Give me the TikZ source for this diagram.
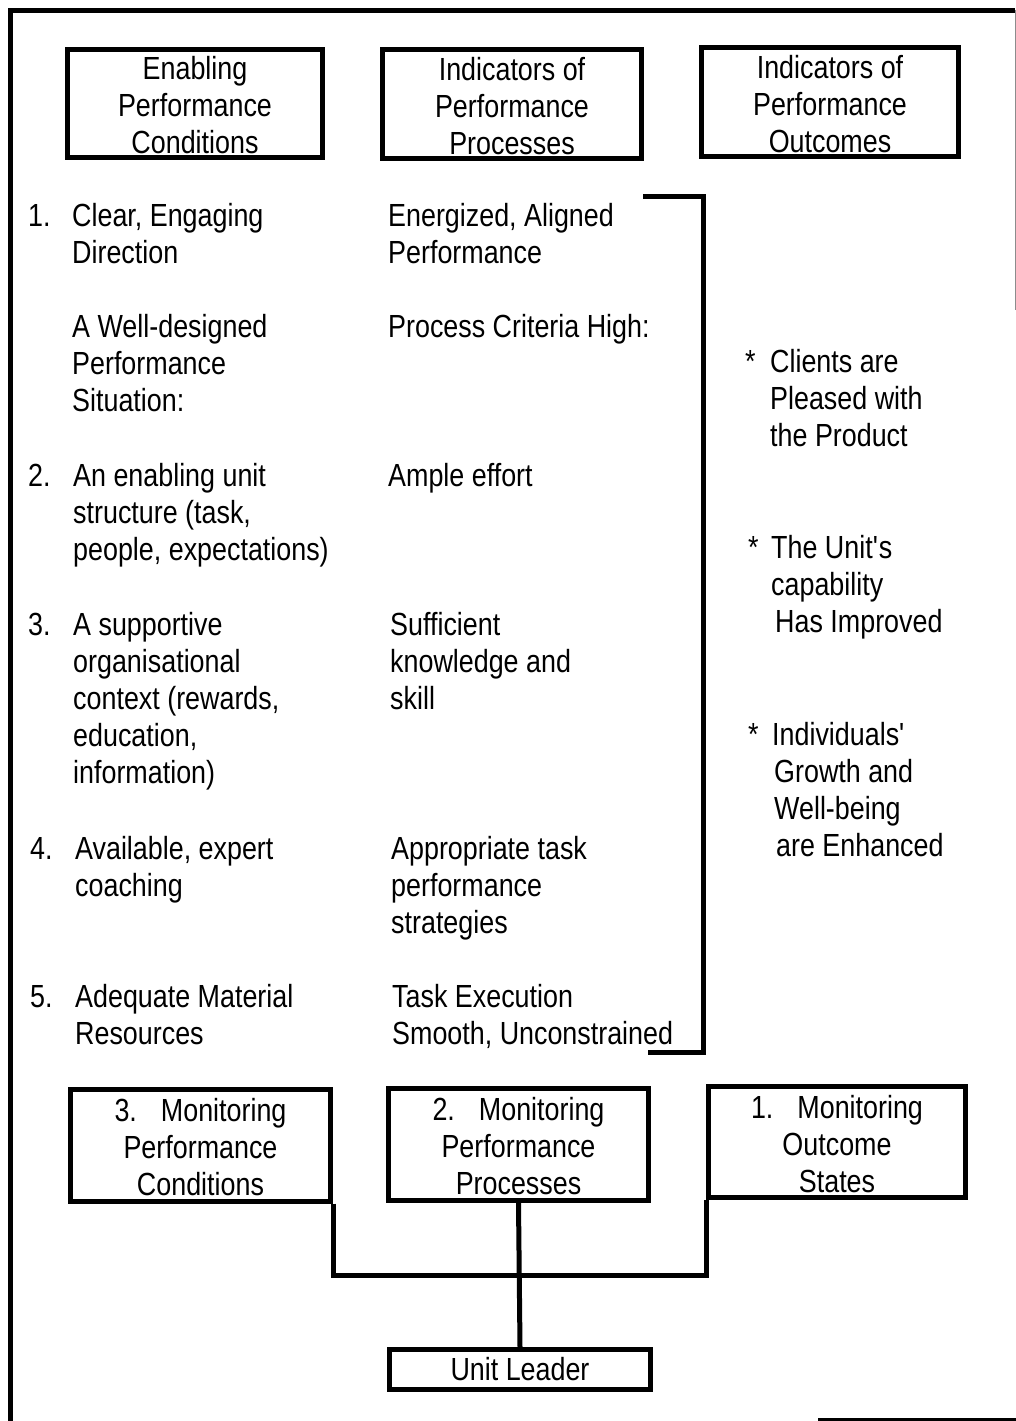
\documentclass[tikz,border=0pt]{standalone}
\usepackage{fontspec}
\setmainfont[FakeStretch=0.84]{Liberation Sans}
\begin{document}
\begin{tikzpicture}[x=1pt,y=-1pt,
  txt/.style={inner sep=0pt, anchor=north west, align=left,
              font=\fontsize{32}{37}\selectfont},
  headbox/.style={draw, line width=5pt, inner sep=0pt, align=center,
              font=\fontsize{32}{37}\selectfont},
  link/.style={line width=5pt}]
% page area
\useasboundingbox (0,0) rectangle (1016,1421);
\fill[white] (0,0) rectangle (1016,1421);

% outer frame
\coordinate (fTL) at (10.5,10.5);
\coordinate (fTR) at (1015,10.5);
\coordinate (fBL) at (10.5,1421);
\draw[line width=5pt] (fBL) -- (fTL) -- (fTR);
\coordinate (fR1) at (1015,10);
\coordinate (fR2) at (1015,310);
\draw[line width=1pt, black!45] (fR1) -- (fR2);
\coordinate (fB1) at (818,1419);
\coordinate (fB2) at (1016,1419);
\draw[line width=3pt] (fB1) -- (fB2);

% column headings
\newcommand\up{\rule{0pt}{27pt}}
\node[headbox, minimum width=255pt, minimum height=108pt] (hA) at (195,103.5)
  {\up Enabling\\Performance\\Conditions};
\node[headbox, minimum width=259pt, minimum height=109pt] (hB) at (512,104)
  {\up Indicators of\\Performance\\Processes};
\node[headbox, minimum width=257pt, minimum height=109pt] (hC) at (830,102)
  {\up Indicators of\\Performance\\Outcomes};

% text blocks: name, x, baseline of first line, lines
\newcommand\blk[4]{\node[txt] (#1) at (#2,#3-26) {\rule{0pt}{26pt}#4};}
\newcommand\ap{\textquotesingle}

% enabling conditions
\blk{n1}{28}{226}{1.}
\blk{c1}{72}{226}{Clear, Engaging\\Direction}
\blk{c0}{72}{337}{A Well-designed\\Performance\\Situation:}
\blk{n2}{28}{486}{2.}
\blk{c2}{73}{486}{An enabling unit\\structure (task,\\people, expectations)}
\blk{n3}{28}{635}{3.}
\blk{c3}{73}{635}{A supportive\\organisational\\context (rewards,\\education,\\information)}
\blk{n4}{30}{859}{4.}
\blk{c4}{75}{859}{Available, expert\\coaching}
\blk{n5}{30}{1007}{5.}
\blk{c5}{75}{1007}{Adequate Material\\Resources}

% process indicators
\blk{p1}{388}{226}{Energized, Aligned\\Performance}
\blk{p0}{388}{337}{Process Criteria High:}
\blk{p2}{388}{486}{Ample effort}
\blk{p3}{390}{635}{Sufficient\\knowledge and\\skill}
\blk{p4}{391}{859}{Appropriate task\\performance\\strategies}
\blk{p5}{392}{1007}{Task Execution\\Smooth, Unconstrained}

% outcome indicators
\blk{s1}{745}{372}{*}
\blk{o1}{770}{372}{Clients are\\Pleased with\\the Product}
\blk{s2}{748}{558}{*}
\blk{o2}{771}{558}{The Unit\ap s\\capability\\\hspace{4pt}Has Improved}
\blk{s3}{748}{745}{*}
\blk{o3}{772}{745}{Individuals\ap\\\hspace{2pt}Growth and\\\hspace{2pt}Well-being\\\hspace{4pt}are Enhanced}

% bracket grouping the process indicators
\coordinate (bA) at (643,196);
\coordinate (bB) at (703,196);
\coordinate (bC) at (703,1052);
\coordinate (bD) at (648,1052);
\draw[link, line join=miter] (bA) -- (bB) -- (bC) -- (bD);

% monitoring boxes
\node[headbox, minimum width=260pt, minimum height=112pt] (mD) at (200.5,1145)
  {\up 3.\hspace{0.75em}Monitoring\\Performance\\Conditions};
\node[headbox, minimum width=260pt, minimum height=112pt] (mE) at (518.5,1144.5)
  {\up 2.\hspace{0.75em}Monitoring\\Performance\\Processes};
\node[headbox, minimum width=257pt, minimum height=111pt] (mF) at (837,1142)
  {\up 1.\hspace{0.75em}Monitoring\\Outcome\\States};

% unit leader
\node[headbox, minimum width=261pt, minimum height=40pt] (ul) at (520,1369.5)
  {Unit Leader};

% connectors
\coordinate (jn) at (518,1275);
\draw[link, line join=miter] (mD.south east) -- (mD.south east |- jn)
  -- (mF.south west |- jn) -- (mF.south west);
\draw[link] (mE.south) -- (ul.north);
\end{tikzpicture}
\end{document}
